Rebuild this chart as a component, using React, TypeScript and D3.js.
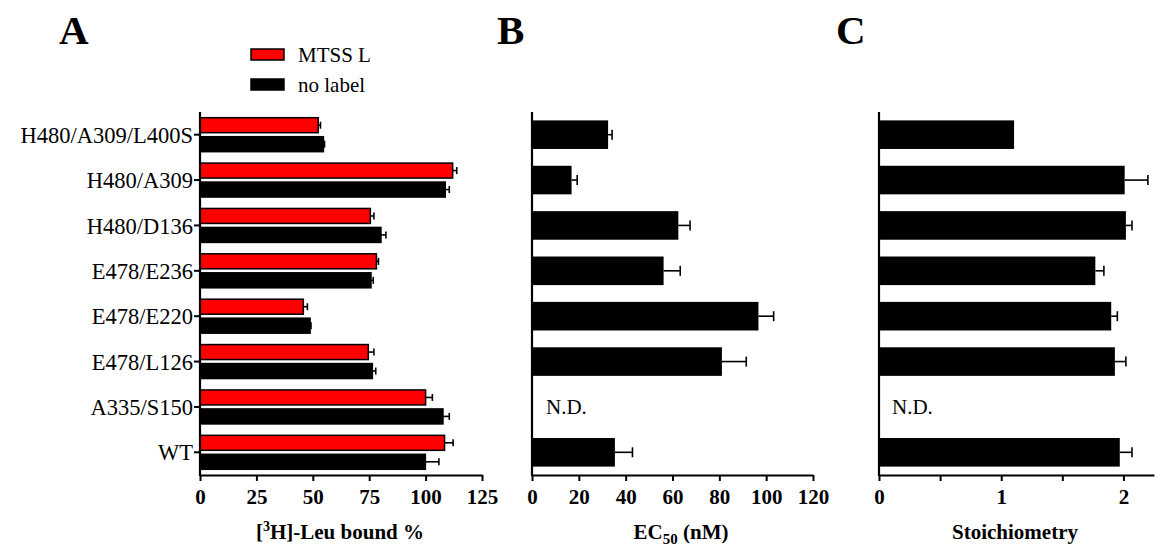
import React, { useEffect, useRef } from "react";
import * as d3 from "d3";

// mutants, top to bottom
const categories = [
  "H480/A309/L400S",
  "H480/A309",
  "H480/D136",
  "E478/E236",
  "E478/E220",
  "E478/L126",
  "A335/S150",
  "WT",
];

// panel A: [3H]-Leu bound %
const mtsslBound = [52.4, 112.0, 75.5, 78.2, 45.8, 74.6, 100.0, 108.4];
const mtsslErr = [1.0, 1.8, 1.6, 0.9, 1.8, 2.5, 3.0, 3.8];
const noLabelBound = [54.7, 108.7, 80.2, 75.8, 48.8, 76.4, 107.7, 99.9];
const noLabelErr = [0.5, 1.8, 2.2, 1.0, 0.4, 1.5, 2.8, 6.0];

// panel B: EC50 (nM), null = N.D.
const ec50 = [32.5, 16.9, 62.5, 56.2, 96.7, 81.1, null, 35.4];
const ec50Err = [1.7, 2.4, 5.0, 7.1, 6.5, 10.4, null, 7.5];

// panel C: stoichiometry
const stoich = [1.105, 2.01, 2.02, 1.77, 1.9, 1.93, null, 1.97];
const stoichErr = [0, 0.19, 0.05, 0.07, 0.05, 0.09, null, 0.1];

const ticksA = [0, 25, 50, 75, 100, 125];
const ticksB = [0, 20, 40, 60, 80, 100, 120];
const ticksC = [0, 0.5, 1, 1.5, 2];
const labelsC = ["0", "", "1", "", "2"];

const FONT = "'Liberation Serif', 'Times New Roman', serif";

export default function App() {
  const ref = useRef<SVGSVGElement>(null);

  useEffect(() => {
    const svg = d3.select(ref.current);
    svg.selectAll("*").remove();

    const top = 112;
    const bottom = 475;

    const y = d3.scaleBand().domain(categories).range([top, bottom]);
    const yB = d3.scaleBand().domain(categories).range([top, bottom]).paddingInner(0.37).paddingOuter(0.185);
    const inner = d3.scaleBand().domain(["mtssl", "none"]).range([0, y.bandwidth()]).paddingInner(0.21).paddingOuter(0.3);

    const xA = d3.scaleLinear().domain([0, 125]).range([200, 482]);
    const xB = d3.scaleLinear().domain([0, 120]).range([532, 813]);
    const xC = d3.scaleLinear().domain([0, 2.25]).range([879, 1154]);

    const xAxis = (x, ticks, fmt) => {
      const g = svg.append("g")
        .attr("transform", `translate(0,${bottom})`)
        .call(d3.axisBottom(x).tickValues(ticks).tickSize(6).tickSizeOuter(0).tickFormat(fmt));
      g.select(".domain").attr("stroke-width", 2.2);
      g.selectAll(".tick line").attr("stroke-width", 2);
      g.selectAll("text")
        .attr("font-family", FONT)
        .attr("font-size", 21)
        .attr("font-weight", "bold")
        .attr("fill", "#000")
        .attr("dy", "0.95em");
    };

    const yAxisLine = (xpos) => {
      svg.append("line")
        .attr("x1", xpos).attr("x2", xpos)
        .attr("y1", top).attr("y2", bottom + 1)
        .attr("stroke", "#000").attr("stroke-width", 2.2);
    };

    const errBar = (g, x0, x1, cy, cap) => {
      g.append("line").attr("x1", x0).attr("x2", x1).attr("y1", cy).attr("y2", cy)
        .attr("stroke", "#000").attr("stroke-width", 1.6);
      g.append("line").attr("x1", x1).attr("x2", x1).attr("y1", cy - cap / 2).attr("y2", cy + cap / 2)
        .attr("stroke", "#000").attr("stroke-width", 1.6);
    };

    // ---------- panel A ----------
    const gA = svg.append("g");
    categories.forEach((c, i) => {
      const y0 = y(c);
      const series = [
        { k: "mtssl", v: mtsslBound[i], e: mtsslErr[i], fill: "#ff0000" },
        { k: "none", v: noLabelBound[i], e: noLabelErr[i], fill: "#000" },
      ];
      series.forEach((s) => {
        const by = y0 + inner(s.k);
        gA.append("rect")
          .attr("x", xA(0)).attr("y", by)
          .attr("width", xA(s.v) - xA(0)).attr("height", inner.bandwidth())
          .attr("fill", s.fill).attr("stroke", "#000").attr("stroke-width", 1.5);
        errBar(gA, xA(s.v), xA(s.v + s.e), by + inner.bandwidth() / 2, 7);
      });
    });
    const yA = svg.append("g")
      .attr("transform", `translate(${xA(0)},0)`)
      .call(d3.axisLeft(y).tickSize(6).tickSizeOuter(0));
    yA.select(".domain").remove();
    yA.selectAll(".tick line").attr("stroke-width", 2);
    yA.selectAll("text")
      .attr("font-family", FONT).attr("font-size", 22.5).attr("fill", "#000").attr("x", -7)
      .attr("dy", "0.36em");
    yAxisLine(xA(0));
    xAxis(xA, ticksA, d3.format("d"));

    // ---------- panel B ----------
    const gB = svg.append("g");
    categories.forEach((c, i) => {
      const v = ec50[i];
      if (v === null) {
        gB.append("text").attr("x", xB(0) + 14).attr("y", yB(c) + yB.bandwidth() / 2 + 7)
          .attr("font-family", FONT).attr("font-size", 21).text("N.D.");
        return;
      }
      gB.append("rect").attr("x", xB(0)).attr("y", yB(c))
        .attr("width", xB(v) - xB(0)).attr("height", yB.bandwidth()).attr("fill", "#000");
      errBar(gB, xB(v), xB(v + ec50Err[i]), yB(c) + yB.bandwidth() / 2, 10);
    });
    yAxisLine(xB(0));
    xAxis(xB, ticksB, d3.format("d"));

    // ---------- panel C ----------
    const gC = svg.append("g");
    categories.forEach((c, i) => {
      const v = stoich[i];
      if (v === null) {
        gC.append("text").attr("x", xC(0) + 13).attr("y", yB(c) + yB.bandwidth() / 2 + 7)
          .attr("font-family", FONT).attr("font-size", 21).text("N.D.");
        return;
      }
      gC.append("rect").attr("x", xC(0)).attr("y", yB(c))
        .attr("width", xC(v) - xC(0)).attr("height", yB.bandwidth()).attr("fill", "#000");
      if (stoichErr[i] > 0) errBar(gC, xC(v), xC(v + stoichErr[i]), yB(c) + yB.bandwidth() / 2, 10);
    });
    yAxisLine(xC(0));
    xAxis(xC, ticksC, (d, i) => labelsC[i]);

    // ---------- axis titles ----------
    const tA = svg.append("text").attr("x", 340).attr("y", 539).attr("text-anchor", "middle")
      .attr("font-family", FONT).attr("font-size", 21).attr("font-weight", "bold");
    tA.append("tspan").text("[");
    tA.append("tspan").attr("font-size", 14).attr("dy", -8).text("3");
    tA.append("tspan").attr("dy", 8).text("H]-Leu bound %");

    const tB = svg.append("text").attr("x", 681).attr("y", 539).attr("text-anchor", "middle")
      .attr("font-family", FONT).attr("font-size", 21).attr("font-weight", "bold");
    tB.append("tspan").text("EC");
    tB.append("tspan").attr("font-size", 15).attr("dy", 5).text("50");
    tB.append("tspan").attr("dy", -5).text(" (nM)");

    svg.append("text").attr("x", 1015).attr("y", 539).attr("text-anchor", "middle")
      .attr("font-family", FONT).attr("font-size", 21).attr("font-weight", "bold").text("Stoichiometry");

    // ---------- panel letters ----------
    [["A", 59], ["B", 497], ["C", 836]].forEach(([t, x]) => {
      svg.append("text").attr("x", x).attr("y", 44)
        .attr("font-family", FONT).attr("font-size", 41).attr("font-weight", "bold").text(t);
    });

    // ---------- legend ----------
    const legend = [
      { label: "MTSS L", fill: "#ff0000", y: 49 },
      { label: "no label", fill: "#000", y: 79 },
    ];
    legend.forEach((l) => {
      svg.append("rect").attr("x", 251).attr("y", l.y).attr("width", 33).attr("height", 11)
        .attr("fill", l.fill).attr("stroke", "#000").attr("stroke-width", 1.5);
      svg.append("text").attr("x", 298).attr("y", l.y + 13)
        .attr("font-family", FONT).attr("font-size", 21).text(l.label);
    });
  }, []);

  return (
    <svg
      ref={ref}
      width={1155}
      height={546}
      style={{ position: "absolute", left: 0, top: 0, background: "#fff" }}
    />
  );
}
